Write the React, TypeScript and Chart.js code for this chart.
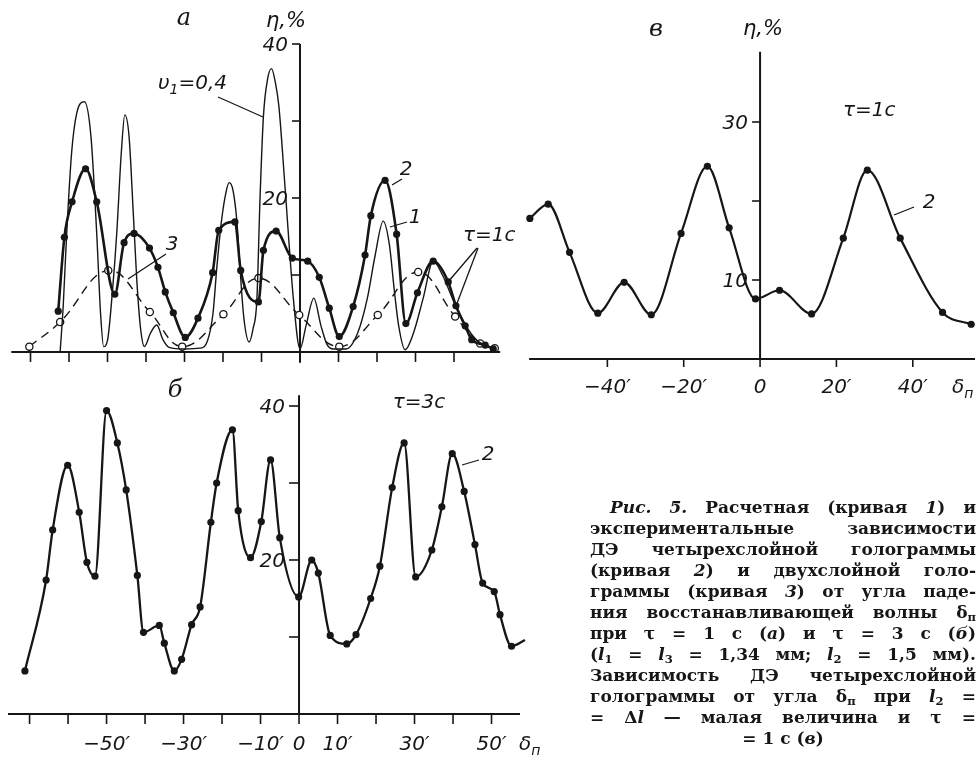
import React, { useEffect, useRef } from 'react';
import { Chart, registerables } from 'chart.js';

Chart.register(...registerables);

const W = 979;
const H = 760;
const INK = '#161616';

// ---------- Panel а (τ = 1 с) ----------
// curve 1: calculated (thin line)
const aCurve1X = [-62.3, -61.5, -60.6, -59.3, -58, -56, -54.3, -52.8, -51.8, -51, -50, -48.7, -47.6, -46.4, -45.5, -44.4, -43.3, -42.4, -41.4, -40.4, -38.8, -37.2, -35.6, -34, -30, -26, -24, -22.6, -21.6, -20.4, -19.2, -18.4, -17.4, -16.4, -15.6, -14.6, -13.2, -12.2, -11.2, -10.4, -9.5, -8.4, -7.4, -6.4, -5.5, -3.9, -1.7, 0, 1.6, 3.6, 5.4, 7, 8.7, 12, 15, 17.5, 19.5, 21.6, 23.2, 24.5, 25.6, 27.3, 29.5, 32, 34.6, 37, 40, 43, 46, 50];
const aCurve1Y = [0, 6, 15.4, 26, 31, 32.5, 28, 15.4, 5, 0.7, 1.5, 8, 15.4, 26, 30.8, 28, 18, 9.4, 3, 0.7, 2.5, 3.5, 1.6, 0.6, 0.4, 0.5, 1.5, 5, 11, 17, 20.8, 22, 21, 17, 11, 4.5, 1.3, 3, 6.8, 19.7, 30.6, 35.5, 36.8, 35, 32, 21.5, 6.8, 0.4, 3.5, 7, 3.5, 1, 0.4, 0.4, 2.5, 7, 12.5, 17, 14, 8, 3.5, 0.3, 2.5, 7, 11.8, 10, 6.5, 3.5, 1.5, 0.5];
// curve 2: experiment, four-layer hologram (filled dots)
const aCurve2X = [-62.8, -61.2, -59.2, -55.7, -52.8, -48.1, -45.7, -43.1, -39.1, -36.9, -35, -32.9, -29.8, -26.5, -22.7, -21.1, -16.9, -15.4, -10.8, -9.5, -6.2, -2.0, 2.0, 5.0, 7.6, 10.2, 13.8, 16.9, 18.4, 22.1, 25.1, 27.5, 30.5, 34.6, 38.5, 40.5, 42.9, 44.6, 48.1, 50.2];
const aCurve2Y = [5.3, 14.9, 19.5, 23.8, 19.5, 7.5, 14.2, 15.4, 13.5, 11, 7.8, 5.1, 1.9, 4.4, 10.3, 15.8, 16.9, 10.6, 6.5, 13.2, 15.7, 12.2, 11.8, 9.7, 5.7, 2.0, 5.9, 12.6, 17.7, 22.3, 15.3, 3.7, 7.7, 11.8, 9.1, 6.0, 3.4, 1.6, 0.9, 0.4];
// curve 3: experiment, two-layer hologram (open circles, dashed)
const aCurve3X = [-70.3, -62.3, -49.8, -39.0, -30.6, -19.9, -10.8, -0.2, 10.2, 20.2, 30.7, 40.3, 46.8, 50.6];
const aCurve3Y = [0.7, 3.9, 10.6, 5.2, 0.7, 4.9, 9.6, 4.8, 0.7, 4.8, 10.4, 4.6, 1.1, 0.5];
const aXTicks = [-70, -60, -50, -40, -30, -20, -10, 0, 10, 20, 30, 40];
const aXTickLabels = ['', '', '', '', '', '', '', '', '', '', '', ''];
const aYTicks = [10, 20, 30, 40];
const aYTickLabels = ['', '20', '', '40'];

// ---------- Panel б (τ = 3 с) ----------
const bCurve2X = [-71.2, -65.7, -64.0, -60.1, -57.1, -55.1, -53.0, -50.0, -47.2, -44.9, -42.0, -40.4, -36.3, -35.0, -32.4, -30.5, -27.9, -25.7, -22.9, -21.4, -17.3, -15.8, -12.6, -9.8, -7.4, -5.0, -0.1, 3.3, 5.0, 8.1, 12.4, 14.8, 18.6, 21.0, 24.2, 27.3, 30.3, 34.5, 37.1, 39.8, 42.9, 45.7, 47.7, 50.7, 52.2, 55.2, 58.7];
const bCurve2Y = [5.6, 17.4, 23.9, 32.3, 26.2, 19.7, 17.9, 39.4, 35.2, 29.1, 18.0, 10.6, 11.5, 9.2, 5.6, 7.1, 11.6, 13.9, 24.9, 30.0, 36.9, 26.4, 20.3, 25.0, 33.0, 22.9, 15.2, 20.0, 18.3, 10.2, 9.1, 10.3, 15.0, 19.2, 29.4, 35.2, 17.8, 21.3, 26.9, 33.8, 28.9, 22.0, 17.0, 15.9, 12.9, 8.8, 9.6];
const bXTicks = [-70, -60, -50, -40, -30, -20, -10, 0, 10, 20, 30, 40, 50];
const bXTickLabels = ['', '', '\u221250\u2032', '', '\u221230\u2032', '', '\u221210\u2032', '0', '10\u2032', '', '30\u2032', '', '50\u2032'];
const bYTicks = [10, 20, 30, 40];
const bYTickLabels = ['', '20', '', '40'];

// ---------- Panel в (l2 = Δl, τ = 1 с) ----------
const cCurve2X = [-60.3, -55.5, -49.9, -42.5, -35.6, -28.5, -20.7, -13.8, -8.1, -1.2, 5.1, 13.5, 21.8, 28.1, 36.7, 47.8, 55.3];
const cCurve2Y = [17.8, 19.6, 13.5, 5.8, 9.7, 5.6, 15.9, 24.4, 16.6, 7.6, 8.7, 5.7, 15.3, 23.9, 15.3, 5.9, 4.4];
const cXTicks = [-40, -20, 0, 20, 40];
const cXTickLabels = ['\u221240\u2032', '\u221220\u2032', '0', '20\u2032', '40\u2032'];
const cYTicks = [10, 20, 30];
const cYTickLabels = ['10', '', '30'];

// ---------- drawing helpers ----------
const LABEL_FONT = "italic 20px 'DejaVu Sans'";

type Part = { t: string; sub?: boolean };
type Note = { parts: Part[]; x: number; y: number; size?: number; align?: 'left' | 'center'; serif?: boolean };

function drawRich(ctx: CanvasRenderingContext2D, note: Note) {
  const size = note.size || 20;
  const fam = note.serif ? "'DejaVu Serif'" : "'DejaVu Sans'";
  const fontFor = (p: Part) => `italic ${p.sub ? Math.round(size * 0.68) : size}px ${fam}`;
  let total = 0;
  note.parts.forEach((p) => {
    ctx.font = fontFor(p);
    total += ctx.measureText(p.t).width;
  });
  let x = note.align === 'center' ? note.x - total / 2 : note.x;
  ctx.textAlign = 'left';
  ctx.textBaseline = 'middle';
  note.parts.forEach((p) => {
    ctx.font = fontFor(p);
    ctx.fillText(p.t, x, note.y + (p.sub ? size * 0.32 : 0));
    x += ctx.measureText(p.t).width;
  });
}

const figurePlugin = {
  id: 'figure',
  beforeDatasetsDraw(chart: any, _args: any, opts: any) {
    const ctx: CanvasRenderingContext2D = chart.ctx;
    const xs = chart.scales.x;
    const ys = chart.scales.y;
    const area = chart.chartArea;
    const x0 = xs.getPixelForValue(0);
    const y0 = ys.getPixelForValue(0);
    ctx.save();
    ctx.strokeStyle = INK;
    ctx.fillStyle = INK;
    ctx.lineCap = 'butt';
    ctx.lineWidth = 2;
    ctx.beginPath();
    ctx.moveTo(area.left, y0);
    ctx.lineTo(area.right, y0);
    ctx.stroke();
    ctx.beginPath();
    ctx.moveTo(x0, area.top);
    ctx.lineTo(x0, area.bottom);
    ctx.stroke();
    ctx.lineWidth = 1.6;
    opts.xTicks.forEach((v: number) => {
      const px = xs.getPixelForValue(v);
      ctx.beginPath();
      ctx.moveTo(px, y0);
      ctx.lineTo(px, y0 + opts.xTickLen);
      ctx.stroke();
    });
    opts.yTicks.forEach((v: number) => {
      const py = ys.getPixelForValue(v);
      ctx.beginPath();
      ctx.moveTo(x0 - opts.yTickLen, py);
      ctx.lineTo(x0, py);
      ctx.stroke();
    });
    ctx.font = LABEL_FONT;
    ctx.textAlign = 'center';
    ctx.textBaseline = 'middle';
    opts.xTicks.forEach((v: number, i: number) => {
      const l = opts.xTickLabels[i];
      if (l) ctx.fillText(l, xs.getPixelForValue(v), y0 + opts.xLabelDy);
    });
    ctx.textAlign = 'right';
    opts.yTicks.forEach((v: number, i: number) => {
      const l = opts.yTickLabels[i];
      if (l) ctx.fillText(l, x0 - opts.yTickLen - 4, ys.getPixelForValue(v) + 2);
    });
    ctx.restore();
  },
  afterDatasetsDraw(chart: any, _args: any, opts: any) {
    const ctx: CanvasRenderingContext2D = chart.ctx;
    ctx.save();
    ctx.strokeStyle = INK;
    ctx.fillStyle = INK;
    ctx.lineWidth = 1.3;
    (opts.leaders || []).forEach((l: number[]) => {
      ctx.beginPath();
      ctx.moveTo(l[0], l[1]);
      ctx.lineTo(l[2], l[3]);
      ctx.stroke();
    });
    (opts.notes || []).forEach((n: Note) => drawRich(ctx, n));
    ctx.restore();
  },
};

const pts = (xs: number[], ys: number[]) => xs.map((x, i) => ({ x, y: ys[i] }));

const heavy = (xs: number[], ys: number[], width = 2.6) => ({
  data: pts(xs, ys),
  borderColor: INK,
  borderWidth: width,
  pointRadius: 3.6,
  pointBackgroundColor: INK,
  pointBorderColor: INK,
  pointBorderWidth: 0,
  cubicInterpolationMode: 'monotone',
  fill: false,
  clip: false,
});

type PanelDef = {
  xMin: number; xMax: number; yMin: number; yMax: number;
  area: { left: number; right: number; top: number; bottom: number };
  datasets: any[];
  figure: any;
};

const panels: PanelDef[] = [
  {
    xMin: -75, xMax: 52, yMin: -1.4, yMax: 40,
    area: { left: 11.25, right: 500.2, top: 44, bottom: 362.8 },
    datasets: [
      heavy(aCurve2X, aCurve2Y),
      {
        data: pts(aCurve1X, aCurve1Y),
        borderColor: INK, borderWidth: 1.4, pointRadius: 0,
        cubicInterpolationMode: 'monotone', fill: false, clip: false,
      },
      {
        data: pts(aCurve3X, aCurve3Y),
        borderColor: INK, borderWidth: 1.4, borderDash: [9, 6],
        pointRadius: 3.6, pointBackgroundColor: '#fff', pointBorderColor: INK, pointBorderWidth: 1.3,
        tension: 0.4, fill: false, clip: false,
      },
    ],
    figure: {
      xTicks: aXTicks, xTickLabels: aXTickLabels, xTickLen: 10, xLabelDy: 31,
      yTicks: aYTicks, yTickLabels: aYTickLabels, yTickLen: 8,
      leaders: [[218, 97, 263, 117], [392, 185, 402, 179], [390, 227, 407, 222], [128, 279, 166, 254], [477, 248, 448, 282], [478, 248, 456, 306]],
      notes: [
        { parts: [{ t: 'а' }], x: 184, y: 19, size: 24, align: 'center', serif: true },
        { parts: [{ t: 'η,%' }], x: 266, y: 22, size: 21 },
        { parts: [{ t: 'υ' }, { t: '1', sub: true }, { t: '=0,4' }], x: 158, y: 84 },
        { parts: [{ t: '2' }], x: 406, y: 170, align: 'center' },
        { parts: [{ t: '1' }], x: 415, y: 218, align: 'center' },
        { parts: [{ t: '3' }], x: 172, y: 245, align: 'center' },
        { parts: [{ t: 'τ=1с' }], x: 463, y: 236 },
      ],
    },
  },
  {
    xMin: -75.6, xMax: 57.4, yMin: 0, yMax: 41.4,
    area: { left: 8, right: 520, top: 395.2, bottom: 714 },
    datasets: [heavy(bCurve2X, bCurve2Y, 2.3)],
    figure: {
      xTicks: bXTicks, xTickLabels: bXTickLabels, xTickLen: 10, xLabelDy: 31,
      yTicks: bYTicks, yTickLabels: bYTickLabels, yTickLen: 10,
      leaders: [[462, 465, 479, 460]],
      notes: [
        { parts: [{ t: 'б' }], x: 175, y: 391, size: 24, align: 'center', serif: true },
        { parts: [{ t: 'τ=3с' }], x: 419, y: 403, align: 'center' },
        { parts: [{ t: '2' }], x: 488, y: 455, align: 'center' },
        { parts: [{ t: 'δ' }, { t: 'п', sub: true }], x: 519, y: 745 },
      ],
    },
  },
  {
    xMin: -60.5, xMax: 56.3, yMin: 0, yMax: 38.9,
    area: { left: 529.1, right: 978.8, top: 51.7, bottom: 359 },
    datasets: [heavy(cCurve2X, cCurve2Y, 2.2)],
    figure: {
      xTicks: cXTicks, xTickLabels: cXTickLabels, xTickLen: 8, xLabelDy: 29,
      yTicks: cYTicks, yTickLabels: cYTickLabels, yTickLen: 8,
      leaders: [[894, 215, 914, 207]],
      notes: [
        { parts: [{ t: 'в' }], x: 656, y: 30, size: 24, align: 'center', serif: true },
        { parts: [{ t: 'η,%' }], x: 743, y: 30, size: 21 },
        { parts: [{ t: 'τ=1с' }], x: 843, y: 111 },
        { parts: [{ t: '2' }], x: 929, y: 203, align: 'center' },
        { parts: [{ t: 'δ' }, { t: 'п', sub: true }], x: 952, y: 388 },
      ],
    },
  },
];

function makeConfig(p: PanelDef): any {
  return {
    type: 'line',
    data: { datasets: p.datasets.map((d) => ({ ...d })) },
    options: {
      animation: false,
      responsive: false,
      devicePixelRatio: 1,
      events: [],
      layout: {
        padding: { left: p.area.left, right: W - p.area.right, top: p.area.top, bottom: H - p.area.bottom },
      },
      plugins: { legend: { display: false }, tooltip: { enabled: false }, figure: p.figure },
      scales: {
        x: { type: 'linear', min: p.xMin, max: p.xMax, display: false },
        y: { type: 'linear', min: p.yMin, max: p.yMax, display: false },
      },
    },
    plugins: [figurePlugin],
  };
}

function PanelCanvas({ def }: { def: PanelDef }) {
  const ref = useRef<HTMLCanvasElement>(null);
  useEffect(() => {
    const chart = new Chart(ref.current as HTMLCanvasElement, makeConfig(def));
    return () => chart.destroy();
  }, [def]);
  return (
    <canvas
      ref={ref}
      width={W}
      height={H}
      style={{ position: 'absolute', left: 0, top: 0, width: W, height: H }}
    />
  );
}

const sub: React.CSSProperties = { fontSize: '0.68em', verticalAlign: '-0.25em', lineHeight: 0 };
const lineStyle: React.CSSProperties = { textAlign: 'justify', textAlignLast: 'justify', height: 21, whiteSpace: 'normal' };

export default function App() {
  return (
    <div style={{ position: 'absolute', left: 0, top: 0, width: W, height: H, background: '#fff', overflow: 'hidden' }}>
      {panels.map((p, i) => (
        <PanelCanvas key={i} def={p} />
      ))}
      <div
        style={{
          position: 'absolute', left: 590, top: 497, width: 386,
          fontFamily: "'DejaVu Serif', serif", fontSize: 17, fontWeight: 'bold', lineHeight: '21px', color: INK,
        }}
      >
        <div style={{ ...lineStyle, paddingLeft: 20 }}><i>Рис. 5.</i> Расчетная (кривая <i>1</i>) и</div>
        <div style={lineStyle}>экспериментальные зависимости</div>
        <div style={lineStyle}>ДЭ четырехслойной голограммы</div>
        <div style={lineStyle}>(кривая <i>2</i>) и двухслойной голо-</div>
        <div style={lineStyle}>граммы (кривая <i>3</i>) от угла паде-</div>
        <div style={lineStyle}>ния восстанавливающей волны δ<span style={sub}>п</span></div>
        <div style={lineStyle}>при τ = 1 с (<i>а</i>) и τ = 3 с (<i>б</i>)</div>
        <div style={lineStyle}>(<i>l</i><span style={sub}>1</span> = <i>l</i><span style={sub}>3</span> = 1,34 мм; <i>l</i><span style={sub}>2</span> = 1,5 мм).</div>
        <div style={lineStyle}>Зависимость ДЭ четырехслойной</div>
        <div style={lineStyle}>голограммы от угла δ<span style={sub}>п</span> при <i>l</i><span style={sub}>2</span> =</div>
        <div style={lineStyle}>= Δ<i>l</i> — малая величина и τ =</div>
        <div style={{ textAlign: 'center', height: 21 }}>= 1 с (<i>в</i>)</div>
      </div>
    </div>
  );
}
